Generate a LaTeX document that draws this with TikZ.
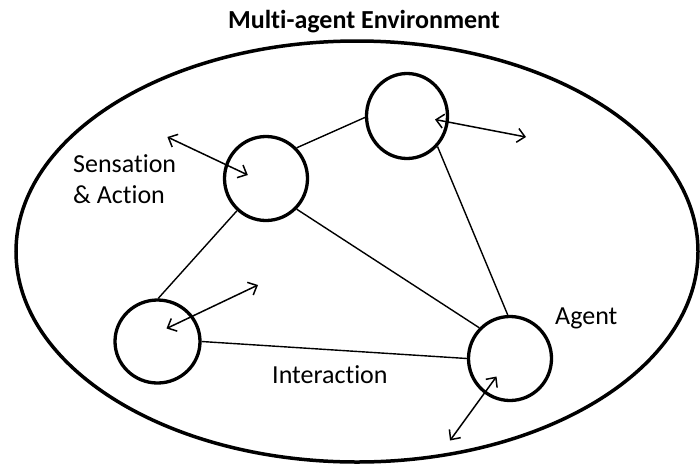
\documentclass[tikz,border=0pt]{standalone}
\usepackage{fontspec}
\setmainfont{Carlito}[Ligatures={NoCommon}]
\usetikzlibrary{shapes.geometric,arrows.meta}
\begin{document}
\begin{tikzpicture}[x=1pt,y=-1pt,
  agent/.style={draw,ellipse,line width=3.3pt,inner sep=0pt},
  link/.style={line width=1.4pt},
  sa/.style={line width=1.5pt,{Straight Barb[length=7.5pt,width=14pt]}-{Straight Barb[length=7.5pt,width=14pt]}},
  lbl/.style={inner sep=0pt,font=\fontsize{26}{31}\selectfont}
]
\useasboundingbox (0,0) rectangle (700,466);
\node[draw,ellipse,line width=3.5pt,minimum width=682pt,minimum height=421pt,inner sep=0pt] (env) at (357,251.5) {};
\node[inner sep=0pt,anchor=base,font=\fontsize{26}{31}\selectfont\bfseries] (title) at (364,28) {Multi-agent Environment};

\node[agent,minimum width=83pt,minimum height=84pt] (B) at (266,178.5) {};
\node[agent,minimum width=81pt,minimum height=85pt] (A) at (407,116) {};
\node[agent,minimum width=85pt,minimum height=83pt] (C) at (157.5,341.5) {};
\node[agent,minimum width=83pt,minimum height=84pt] (D) at (510,358.5) {};

\draw[link] (B.45) -- (A.182);
\draw[link] (A.-45) -- (D.93);
\draw[link] (B.-45) -- (D.135);
\draw[link] (B.-132) -- (C.89);
\draw[link] (C.0) -- (D.180);

\coordinate (b1) at (167.4,137);
\coordinate (b2) at (247.8,175);
\coordinate (a1) at (435,119.5);
\coordinate (a2) at (526,137);
\coordinate (c1) at (166.5,328.5);
\coordinate (c2) at (258,285);
\coordinate (d1) at (496.5,376.5);
\coordinate (d2) at (450,440.5);
\draw[sa] (b1) -- (b2);
\draw[sa] (a1) -- (a2);
\draw[sa] (c1) -- (c2);
\draw[sa] (d1) -- (d2);

\node[lbl,anchor=base west,align=left] (sens) at (73,203) {Sensation\\\& Action};
\node[lbl,anchor=base west] (agentlbl) at (555,324) {Agent};
\node[lbl,anchor=base west] (inter) at (272,383) {Interaction};
\end{tikzpicture}
\end{document}
